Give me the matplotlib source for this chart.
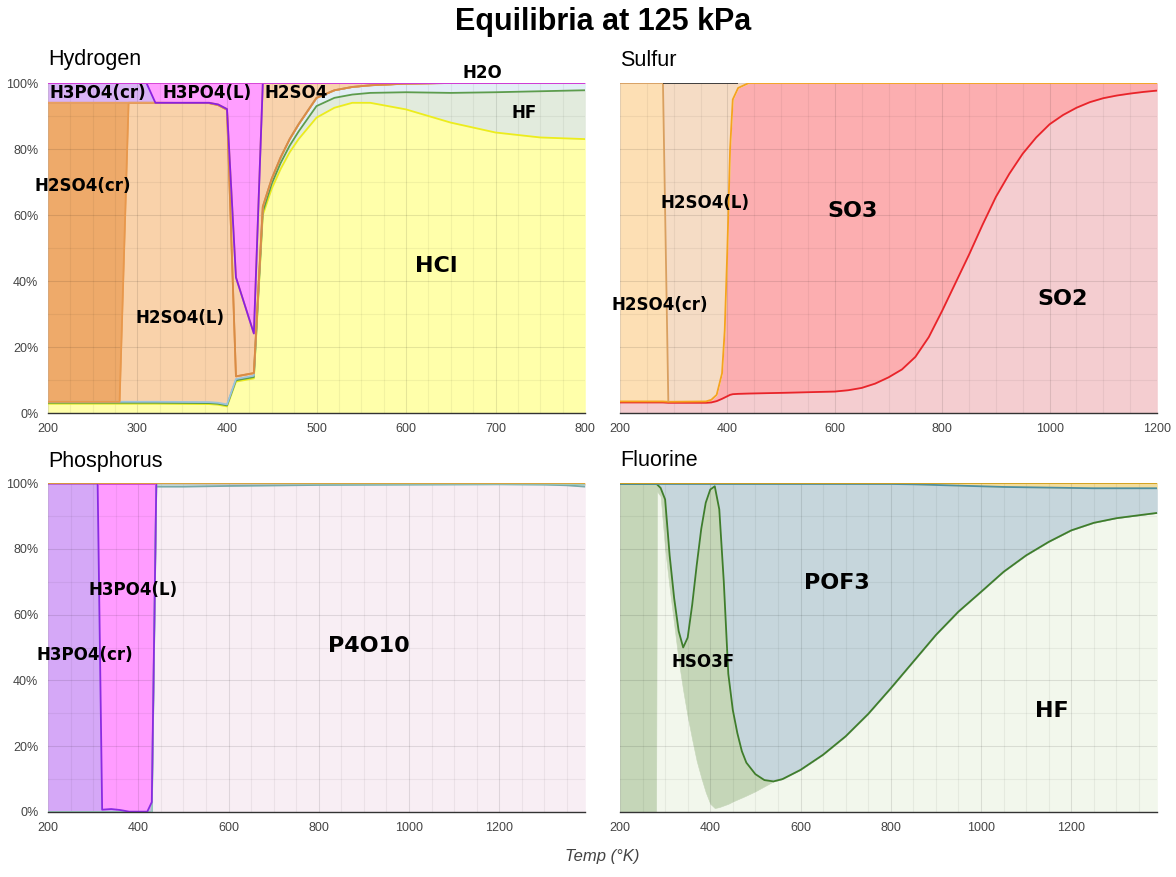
import numpy as np
import matplotlib
matplotlib.use("Agg")
import matplotlib.pyplot as plt
from matplotlib.ticker import MultipleLocator

nan = np.nan

# ---------------- Hydrogen (mol % of H, stacked bottom -> top) ----------------
h_temp = [200, 280, 290, 310, 320, 380, 390, 400, 410, 430, 440, 450,
          460, 470, 480, 500, 520, 540, 560, 600, 650, 700, 750, 800]
h_hcl = [2.8, 2.8, 2.8, 2.8, 2.8, 2.7, 2.5, 2.0, 9.5, 10.5, 60.0, 68.0,
         74.0, 79.0, 83.0, 89.5, 92.5, 94.0, 94.0, 92.0, 88.0, 85.0, 83.5, 83.0]
h_hf = [0.3, 0.3, 0.3, 0.3, 0.3, 0.3, 0.3, 0.3, 0.4, 0.4, 1.0, 1.5,
        1.8, 2.0, 2.3, 3.5, 3.0, 2.5, 3.0, 5.2, 9.0, 12.2, 14.0, 14.8]
h_h2o = [0.3, 0.3, 0.3, 0.3, 0.3, 0.3, 0.3, 0.3, 0.4, 0.4, 1.5, 1.5,
         1.7, 2.0, 2.2, 2.5, 2.3, 2.3, 2.3, 2.6, 3.0, 2.8, 2.5, 2.2]
h_h2so4_l = [0, 0, 90.6, 90.6, 90.6, 90.6, 90.2, 89.3, 0.8, 0.8, 0, 0,
             0, 0, 0, 0, 0, 0, 0, 0, 0, 0, 0, 0]
h_h2so4_cr = [90.6, 90.6, 0, 0, 0, 0, 0, 0, 0, 0, 0, 0,
              0, 0, 0, 0, 0, 0, 0, 0, 0, 0, 0, 0]
h_h2so4_g = [0, 0, 0, 0, 0, 0.1, 0.2, 0.2, 30.0, 12.0, 37.5, 29.0,
             22.5, 17.0, 12.5, 4.5, 2.2, 1.2, 0.7, 0.2, 0, 0, 0, 0]
h_h3po4_cr = [6.0, 6.0, 6.0, 6.0, 0, 0, 0, 0, 0, 0, 0, 0,
              0, 0, 0, 0, 0, 0, 0, 0, 0, 0, 0, 0]
h_h3po4_l = [0, 0, 0, 0, 6.0, 6.0, 6.5, 7.9, 58.9, 75.9, 0, 0,
             0, 0, 0, 0, 0, 0, 0, 0, 0, 0, 0, 0]

# ---------------- Sulfur ----------------
s_temp = [200, 280, 290, 360, 370, 380, 390, 395, 400, 405, 410, 420,
          440, 470, 500, 600, 625, 650, 675, 700, 725, 750, 775, 800,
          825, 850, 875, 900, 925, 950, 975, 1000, 1025, 1050, 1075, 1100,
          1125, 1150, 1175, 1200]
s_so2 = [3.2, 3.2, 3.1, 3.1, 3.2, 3.6, 4.3, 4.7, 5.1, 5.5, 5.7, 5.8,
         5.9, 6.0, 6.1, 6.5, 6.9, 7.6, 8.9, 10.8, 13.2, 17.0, 23.0, 31.0,
         39.5, 48.0, 57.0, 65.5, 72.5, 78.6, 83.5, 87.5, 90.3, 92.5, 94.2, 95.4,
         96.2, 96.8, 97.3, 97.7]
s_so3 = [0.3, 0.3, 0.3, 0.4, 0.8, 1.9, 7.7, 20.3, 44.9, 74.5, 89.3, 92.7,
         94.1, 94.0, 93.9, 93.5, 93.1, 92.4, 91.1, 89.2, 86.8, 83.0, 77.0, 69.0,
         60.5, 52.0, 43.0, 34.5, 27.5, 21.4, 16.5, 12.5, 9.7, 7.5, 5.8, 4.6,
         3.8, 3.2, 2.7, 2.3]
s_h2so4_cr = [96.5, 96.5, 0] + [nan] * 37
s_h2so4_l = [nan, 0, 96.6, 96.5, 96.0, 94.5, 88.0, 75.0, 50.0, 20.0, 5.0, 1.5] + [nan] * 28

# ---------------- Phosphorus ----------------
p_temp = [200, 300, 310, 320, 340, 360, 380, 420, 430, 440, 500, 600,
          800, 1000, 1200, 1300, 1350, 1390]
p_p4o10 = [0, 0, 0, 0, 0, 0, 0, 0, 0, 98.9, 98.9, 99.1,
           99.4, 99.5, 99.6, 99.5, 99.3, 98.9]
p_minor = [0, 0, 0, 0, 0, 0, 0, 0, 0, 0.9, 0.9, 0.7,
           0.4, 0.3, 0.2, 0.3, 0.4, 0.7]
p_h3po4_cr = [99.8, 99.8, 99.8, 0.7, 0.9, 0.6, 0.1, 0.1, 3.0, 0, nan, nan,
              nan, nan, nan, nan, nan, nan]
p_h3po4_l = [nan, nan, 0, 99.1, 98.9, 99.2, 99.7, 99.7, 96.8, 0, nan, nan,
             nan, nan, nan, nan, nan, nan]
p_rest = [0.2, 0.2, 0.2, 0.2, 0.2, 0.2, 0.2, 0.2, 0.2, 0.2, 0.2, 0.2,
          0.2, 0.2, 0.2, 0.2, 0.3, 0.4]

# ---------------- Fluorine ----------------
f_temp = [200, 280, 282, 290, 300, 310, 320, 330, 340, 350, 360, 370,
          380, 390, 400, 410, 420, 430, 440, 450, 460, 470, 480, 500,
          520, 540, 560, 600, 650, 700, 750, 800, 850, 900, 950, 1000,
          1050, 1100, 1150, 1200, 1250, 1300, 1350, 1390]
f_hf = [0, 0, 97.5, 96.0, 80.0, 68.0, 57.0, 46.0, 37.0, 29.0, 22.0, 15.5,
        10.5, 6.0, 2.5, 1.2, 1.5, 2.0, 2.5, 3.2, 3.8, 4.4, 5.0, 6.3,
        7.8, 9.3, 10.0, 12.8, 17.4, 23.0, 29.8, 37.6, 45.7, 53.8, 60.9, 66.9,
        73.0, 78.0, 82.1, 85.6, 87.9, 89.3, 90.2, 90.9]
f_hso3f = [99.7, 99.7, 2.1, 2.5, 15.0, 10.0, 8.0, 9.0, 13.0, 24.0, 41.0, 59.5,
           75.5, 88.0, 95.5, 97.8, 90.5, 68.0, 39.5, 27.8, 20.2, 14.1, 10.0, 5.2,
           1.9, 0, 0, 0, 0, 0, 0, 0, 0, 0, 0, 0,
           0, 0, 0, 0, 0, 0, 0, 0]
f_pof3 = [0, 0, 0.1, 1.2, 4.7, 21.7, 34.7, 44.7, 49.7, 46.7, 36.7, 24.7,
          13.7, 5.7, 1.7, 0.7, 7.7, 29.7, 57.7, 68.7, 75.7, 81.2, 84.7, 88.2,
          90.0, 90.4, 89.7, 86.9, 82.3, 76.7, 69.9, 62.1, 53.9, 45.6, 38.3, 32.1,
          25.8, 20.7, 16.5, 12.9, 10.5, 9.1, 8.2, 7.5]
f_rest = [0.3, 0.3, 0.3, 0.3, 0.3, 0.3, 0.3, 0.3, 0.3, 0.3, 0.3, 0.3,
          0.3, 0.3, 0.3, 0.3, 0.3, 0.3, 0.3, 0.3, 0.3, 0.3, 0.3, 0.3,
          0.3, 0.3, 0.3, 0.3, 0.3, 0.3, 0.3, 0.3, 0.4, 0.6, 0.8, 1.0,
          1.2, 1.3, 1.4, 1.5, 1.6, 1.6, 1.6, 1.6]

pct_labels = ["0%", "20%", "40%", "60%", "80%", "100%"]

LABEL_FONT = "DejaVu Sans"
HEAD_FONT = "Liberation Sans"

fig = plt.figure(figsize=(11.76, 8.77), dpi=100)
W, H = 1176.0, 877.0


def add_panel(left, top, right, bottom):
    return fig.add_axes([left / W, 1 - bottom / H, (right - left) / W, (bottom - top) / H])


def draw_stack(ax, temps, layers, fills, edges, lw=1.3):
    arr = np.array(layers, dtype=float)
    solid = np.nan_to_num(arr)
    ax.stackplot(temps, solid, colors=fills, linewidth=0.4,
                 edgecolor="face", zorder=1)
    tops = np.cumsum(solid, axis=0)
    for row, top, col in zip(arr, tops, edges):
        if col is None:
            continue
        y = np.where(np.isnan(row), np.nan, top)
        ax.plot(temps, y, color=col, lw=lw, zorder=3,
                solid_joinstyle="round", solid_capstyle="butt")


def style_axes(ax, xlim, xmajor, xminor, show_y):
    ax.set_xlim(*xlim)
    ax.set_ylim(0, 100)
    ax.xaxis.set_major_locator(MultipleLocator(xmajor))
    ax.xaxis.set_minor_locator(MultipleLocator(xminor))
    ax.set_yticks([0, 20, 40, 60, 80, 100])
    ax.yaxis.set_minor_locator(MultipleLocator(10))
    ax.set_axisbelow(False)
    ax.grid(which="major", color="black", alpha=0.10, lw=0.8)
    ax.grid(which="minor", color="black", alpha=0.05, lw=0.8)
    ax.tick_params(which="both", length=0, labelsize=9, labelcolor="#444444")
    ax.tick_params(axis="x", pad=7)
    ax.tick_params(axis="y", pad=7)
    if show_y:
        ax.set_yticklabels(pct_labels)
    else:
        ax.tick_params(axis="y", labelleft=False)
    for side in ("left", "right", "top"):
        ax.spines[side].set_visible(False)
    ax.spines["bottom"].set_color("#333333")
    ax.spines["bottom"].set_linewidth(1.0)
    ax.spines["bottom"].set_zorder(4)
    for lab in ax.get_xticklabels() + ax.get_yticklabels():
        lab.set_fontfamily(HEAD_FONT)


def label(ax, x, y, text, big=False):
    ax.text(x, y, text, ha="center", va="center", fontsize=16 if big else 12,
            fontweight="bold", family=LABEL_FONT, color="black", zorder=6,
            clip_on=False)


# Hydrogen
ax_h = add_panel(48, 83, 585, 413)
draw_stack(ax_h, h_temp,
           [h_hcl, h_hf, h_h2o, h_h2so4_l, h_h2so4_cr, h_h2so4_g, h_h3po4_cr, h_h3po4_l],
           ["#ffffaa", "#e2ebdd", "#e3eff6", "#f9d2aa", "#eeaa6a", "#f9d3ad", "#d9b3f5", "#ff9eff"],
           ["#eded1a", "#5d9c4c", "#9cc3dd", "#e8984c", "#d98c45", "#e8a060", "#8b1fe0", "#d63fd6"])
style_axes(ax_h, (200, 800), 100, 25, True)
label(ax_h, 256, 97, "H3PO4(cr)")
label(ax_h, 378, 97, "H3PO4(L)")
label(ax_h, 477, 97, "H2SO4")
label(ax_h, 685, 103, "H2O")
label(ax_h, 732, 91, "HF")
label(ax_h, 634, 44.5, "HCl", big=True)
label(ax_h, 239, 68.8, "H2SO4(cr)")
label(ax_h, 347, 28.8, "H2SO4(L)")

# Sulfur
ax_s = add_panel(620, 83, 1157, 413)
draw_stack(ax_s, s_temp,
           [s_so2, s_so3, s_h2so4_cr, s_h2so4_l],
           ["#f4cdd0", "#fcaeb0", "#fddfb4", "#f5dcc5"],
           ["#e8242a", "#f5a31e", "#d9a060", "#333333"])
style_axes(ax_s, (200, 1200), 200, 50, False)
label(ax_s, 358, 63.6, "H2SO4(L)")
label(ax_s, 634, 61.2, "SO3", big=True)
label(ax_s, 274, 32.7, "H2SO4(cr)")
label(ax_s, 1025, 34.5, "SO2", big=True)

# Phosphorus
ax_p = add_panel(48, 483, 585, 812)
draw_stack(ax_p, p_temp,
           [p_p4o10, p_minor, p_h3po4_cr, p_h3po4_l, p_rest],
           ["#f8eef4", "#d6ebe4", "#d5a8f7", "#ff9cff", "#f6dca2"],
           ["#7aa8a8", "#9ccbbd", "#8a2be2", "#cc44dd", "#e0a030"])
style_axes(ax_p, (200, 1390), 200, 50, True)
label(ax_p, 389, 67.5, "H3PO4(L)")
label(ax_p, 282, 47.7, "H3PO4(cr)")
label(ax_p, 911, 50.5, "P4O10", big=True)

# Fluorine
ax_f = add_panel(620, 483, 1157, 812)
draw_stack(ax_f, f_temp,
           [f_hf, f_hso3f, f_pof3, f_rest],
           ["#f2f7ec", "#c5d6b8", "#c6d6dc", "#f3dd9c"],
           [None, "#3f7d2b", "#4f8fa0", "#d4a017"])
style_axes(ax_f, (200, 1390), 200, 50, False)
label(ax_f, 680, 69.6, "POF3", big=True)
label(ax_f, 384, 45.6, "HSO3F")
label(ax_f, 1158, 30.7, "HF", big=True)

# Panel headings, title, shared axis label
for px, py, name in [(48, 60, "Hydrogen"), (620, 60, "Sulfur"),
                     (48, 461, "Phosphorus"), (620, 460, "Fluorine")]:
    fig.text(px / W, 1 - py / H, name, ha="left", va="center", fontsize=15.5,
             family=HEAD_FONT, color="black")

fig.text(603 / W, 1 - 22 / H, "Equilibria at 125 kPa", ha="center", va="center",
         fontsize=22, fontweight="bold", family=HEAD_FONT)
fig.text(602 / W, 1 - 857 / H, "Temp (°K)", ha="center", va="center",
         fontsize=12, style="italic", family=HEAD_FONT, color="#444444")

fig.savefig("out.png", dpi=100, facecolor="white")
